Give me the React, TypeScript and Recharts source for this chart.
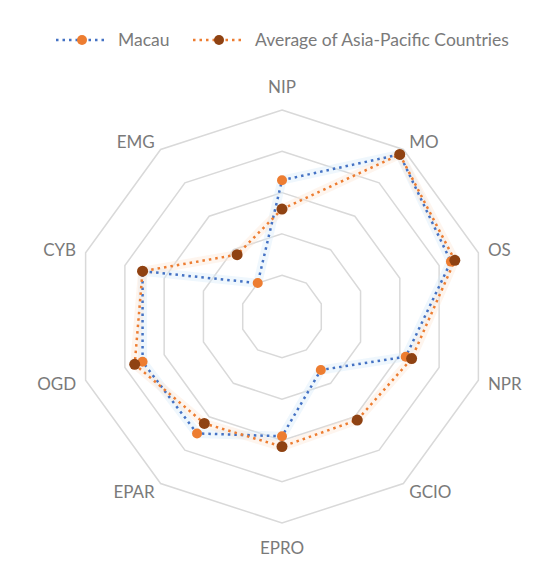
import React from 'react';
import { RadarChart, Radar, PolarGrid, PolarAngleAxis, PolarRadiusAxis } from 'recharts';

// e-government sub-indicators, clockwise from the top
const categories = ['NIP', 'MO', 'OS', 'NPR', 'GCIO', 'EPRO', 'EPAR', 'OGD', 'CYB', 'EMG'];
const macau = [0.66, 0.97, 0.86, 0.63, 0.32, 0.58, 0.70, 0.71, 0.71, 0.20];
const asiaPacificAvg = [0.52, 0.97, 0.88, 0.66, 0.62, 0.63, 0.64, 0.75, 0.71, 0.37];
const radiusTicks = [0, 0.2, 0.4, 0.6, 0.8, 1];

const seriesNames = ['Macau', 'Average of Asia-Pacific Countries'];

const data = categories.map((cat, i) => ({
  cat,
  macau: macau[i],
  avg: asiaPacificAvg[i],
}));

const W = 537;
const H = 562;
const CX = 274;
const CY = 308.5;
const R = 206.5;

const FONT = 'Lato, "Open Sans", sans-serif';
const TEXT = '#7a7a7a';
const GRID = '#d9d9d9';
const BLUE = '#4472c4';
const ORANGE = '#ed7d31';
const BROWN = '#8f4212';

const maxVal = radiusTicks[radiusTicks.length - 1];
const ringRadii = radiusTicks.map((v) => (v / maxVal) * R);

// category labels sit just outside the outer ring, like Excel does it
const AngleTick = (props: any) => {
  const { payload } = props;
  const rad = (-payload.coordinate * Math.PI) / 180;
  const dx = Math.cos(rad);
  const dy = Math.sin(rad);
  const vertical = Math.abs(dx) < 0.01;
  const dist = R + (vertical ? 24 : 10);
  const anchor = vertical ? 'middle' : dx > 0 ? 'start' : 'end';
  return (
    <text
      x={CX + dx * dist}
      y={CY + dy * dist}
      textAnchor={anchor}
      dominantBaseline="central"
      fill={TEXT}
      fontSize={17}
      fontFamily={FONT}
    >
      {payload.value}
    </text>
  );
};

const makeDot = (fill: string, r: number) => (p: any) => (
  <circle key={`d-${p.index}`} cx={p.cx} cy={p.cy} r={r} fill={fill} stroke="none" />
);

const LegendIcon = ({ line, marker, left }: { line: string; marker: string; left: number }) => (
  <svg width={54} height={12} style={{ position: 'absolute', left, top: 26 }}>
    <line x1={1} y1={6} x2={53} y2={6} stroke={line} strokeWidth={2.5} strokeDasharray="2.5 4" />
    <circle cx={27} cy={6} r={5} fill={marker} />
  </svg>
);

const legendText: React.CSSProperties = {
  position: 'absolute',
  top: 22,
  fontFamily: FONT,
  fontSize: 17.5,
  lineHeight: '20px',
  color: TEXT,
  whiteSpace: 'nowrap',
};

const Legend = () => (
  <>
    <LegendIcon line={BLUE} marker={ORANGE} left={47} />
    <span style={{ ...legendText, left: 110 }}>{seriesNames[0]}</span>
    <LegendIcon line={ORANGE} marker={BROWN} left={184} />
    <span style={{ ...legendText, left: 247 }}>{seriesNames[1]}</span>
  </>
);

export default function App() {
  return (
    <div style={{ position: 'relative', width: W, height: H, background: '#fff' }}>
      <div
        style={{
          position: 'absolute',
          left: -1,
          top: -1,
          width: W,
          height: H,
          borderLeft: `1px solid ${GRID}`,
          borderTop: `1px solid ${GRID}`,
          pointerEvents: 'none',
        }}
      />
      <Legend />
      <RadarChart
        width={W}
        height={H}
        data={data}
        cx={CX}
        cy={CY}
        outerRadius={R}
        startAngle={90}
        endAngle={-270}
        margin={{ top: 0, right: 0, bottom: 0, left: 0 }}
      >
        <PolarGrid
          gridType="polygon"
          radialLines={false}
          polarRadius={ringRadii}
          stroke={GRID}
          strokeWidth={1.5}
        />
        <PolarAngleAxis dataKey="cat" tick={<AngleTick />} tickLine={false} axisLine={false} />
        <PolarRadiusAxis
          domain={[radiusTicks[0], maxVal]}
          ticks={radiusTicks}
          angle={90}
          tick={false}
          axisLine={false}
        />

        {/* soft glow under the dotted lines */}
        <Radar
          dataKey="macau"
          stroke="#d6ebfa"
          strokeWidth={9}
          strokeOpacity={0.4}
          strokeLinejoin="round"
          fill="none"
          fillOpacity={0}
          dot={false}
          isAnimationActive={false}
          legendType="none"
        />
        <Radar
          dataKey="avg"
          stroke="#fde6d4"
          strokeWidth={9}
          strokeOpacity={0.4}
          strokeLinejoin="round"
          fill="none"
          fillOpacity={0}
          dot={false}
          isAnimationActive={false}
          legendType="none"
        />

        <Radar
          name={seriesNames[0]}
          dataKey="macau"
          stroke={BLUE}
          strokeWidth={2.5}
          strokeDasharray="2.5 4"
          fill="none"
          fillOpacity={0}
          dot={makeDot(ORANGE, 5)}
          isAnimationActive={false}
        />
        <Radar
          name={seriesNames[1]}
          dataKey="avg"
          stroke={ORANGE}
          strokeWidth={2.5}
          strokeDasharray="2.5 4"
          fill="none"
          fillOpacity={0}
          dot={makeDot(BROWN, 5.5)}
          isAnimationActive={false}
        />
      </RadarChart>
    </div>
  );
}
